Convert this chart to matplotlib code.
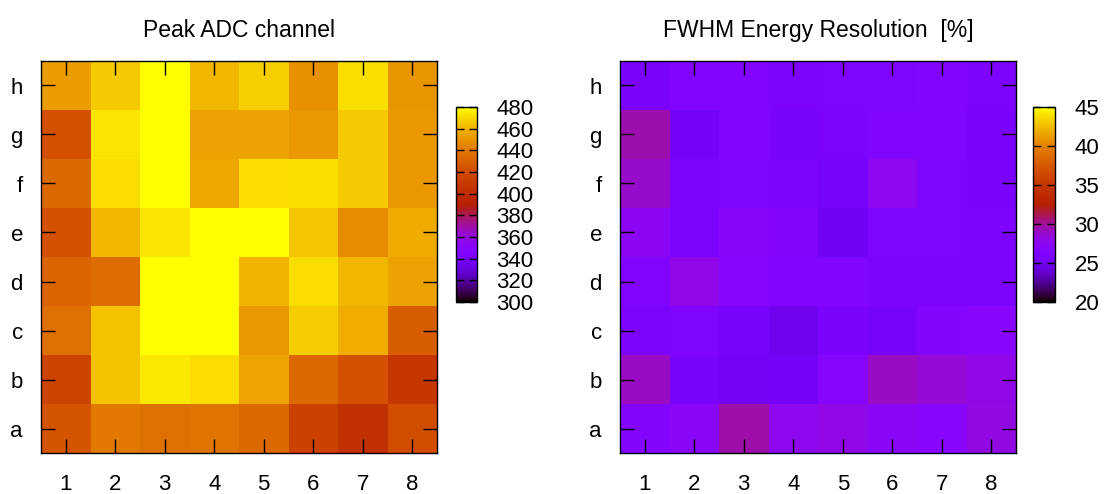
import numpy as np
import matplotlib
matplotlib.use("Agg")
import matplotlib.pyplot as plt

plt.rcParams['font.family'] = ['Liberation Sans', 'DejaVu Sans']

cols = ['1', '2', '3', '4', '5', '6', '7', '8']
rows = ['a', 'b', 'c', 'd', 'e', 'f', 'g', 'h']

# peak ADC channel, rows a (bottom) .. h (top), columns 1..8
peak = [
    [424, 440, 437, 438, 433, 414, 403, 421],  # a
    [416, 464, 474, 471, 455, 433, 423, 408],  # b
    [437, 464, 480, 480, 451, 467, 458, 428],  # c
    [432, 435, 480, 480, 460, 471, 461, 454],  # d
    [423, 461, 473, 480, 480, 465, 447, 457],  # e
    [434, 471, 480, 456, 471, 472, 466, 451],  # f
    [422, 473, 480, 454, 454, 451, 466, 451],  # g
    [453, 466, 480, 461, 468, 449, 472, 450],  # h
]

# FWHM energy resolution [%]
fwhm = [
    [26.7, 27.3, 29.6, 27.8, 28.0, 27.3, 27.0, 28.2],  # a
    [29.0, 25.6, 25.2, 25.4, 26.8, 29.0, 28.5, 28.0],  # b
    [26.0, 26.2, 25.5, 24.8, 25.8, 25.5, 26.7, 27.0],  # c
    [26.4, 28.0, 26.8, 26.3, 26.3, 26.0, 26.0, 26.0],  # d
    [27.5, 26.0, 27.2, 26.7, 25.0, 26.2, 26.2, 26.0],  # e
    [28.8, 26.0, 26.1, 25.9, 25.5, 27.7, 26.2, 25.8],  # f
    [29.5, 25.4, 26.4, 25.6, 26.0, 26.3, 26.3, 25.8],  # g
    [25.8, 26.3, 26.5, 26.0, 26.2, 26.2, 26.3, 26.0],  # h
]

W, H = 1106, 494
fig = plt.figure(figsize=(W / 100, H / 100), dpi=100)


def px(x0, y0, x1, y1):
    return [x0 / W, 1 - y1 / H, (x1 - x0) / W, (y1 - y0) / H]


def panel(data, title, vmin, vmax, cticks, ax_box, cb_box):
    ax = fig.add_axes(px(*ax_box))
    edges = np.arange(0.5, 9.5, 1)
    m = ax.pcolormesh(edges, edges, np.array(data), cmap='gnuplot',
                      vmin=vmin, vmax=vmax)
    ax.set_xlim(0.5, 8.5)
    ax.set_ylim(0.5, 8.5)
    ax.set_xticks(range(1, 9))
    ax.set_xticklabels(cols)
    ax.set_yticks(range(1, 9))
    ax.set_yticklabels(rows)
    ax.tick_params(direction='in', length=10, width=1, labelsize=16,
                   top=True, right=True)
    ax.tick_params(axis='x', pad=15)
    ax.tick_params(axis='y', pad=13)
    for s in ax.spines.values():
        s.set_linewidth(1)
    ax.set_title(title, fontsize=16.5, pad=17)

    cax = fig.add_axes(px(*cb_box))
    cb = fig.colorbar(m, cax=cax)
    cb.set_ticks(cticks)
    cb.outline.set_linewidth(1)
    cax.tick_params(direction='in', length=6, width=1, labelsize=16,
                    left=True, right=True, pad=14)
    return ax


panel(peak, 'Peak ADC channel', 300, 480, range(300, 481, 20),
      (41, 61, 437, 453), (456, 107, 477, 302))
panel(fwhm, 'FWHM Energy Resolution  [%]', 20, 45, range(20, 46, 5),
      (620, 61, 1016, 453), (1033, 107, 1055, 302))

fig.savefig('out.png', dpi=100)
